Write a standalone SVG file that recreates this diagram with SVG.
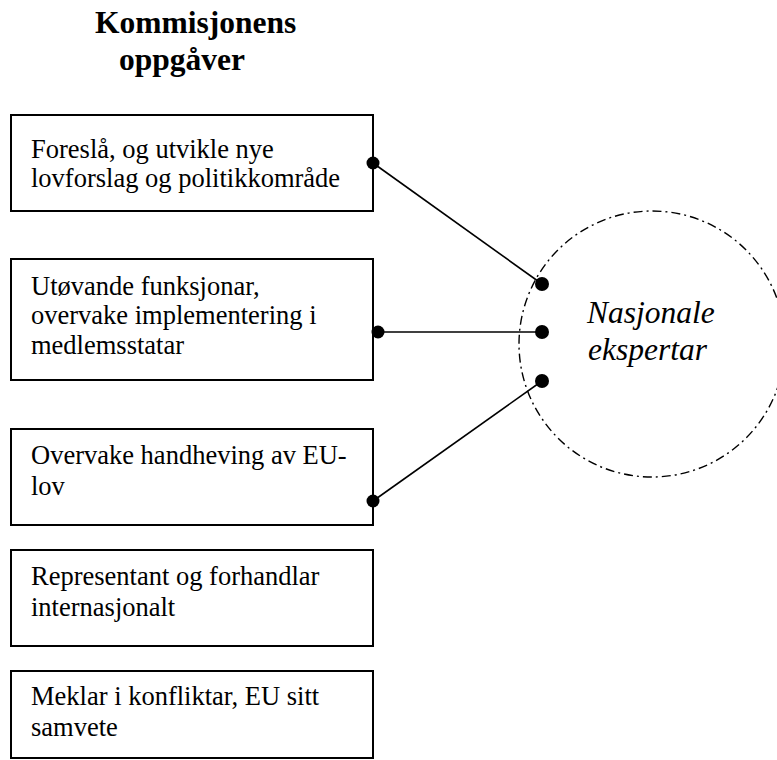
<svg xmlns="http://www.w3.org/2000/svg" width="777" height="760" viewBox="0 0 777 760">
<style>
.box{fill:#fff;stroke:#000;stroke-width:2}
.t{font-family:"Liberation Serif","Times New Roman",serif;font-size:26.5px;fill:#000}
.title{font-family:"Liberation Serif","Times New Roman",serif;font-size:31.5px;font-weight:bold;fill:#000}
.it{font-family:"Liberation Serif","Times New Roman",serif;font-size:31.5px;font-style:italic;fill:#000}
.con{stroke:#000;stroke-width:1.6;fill:none}
.dot{fill:#000}
.ring{fill:none;stroke:#000;stroke-width:1.4;stroke-dasharray:9 4 2 4}
</style>
<rect width="777" height="760" fill="#fff"/>
<g id="title">
<text class="title" x="95" y="33">Kommisjonens</text>
<text class="title" x="119" y="70">oppgåver</text>
</g>
<g id="node1">
<rect class="box" x="11" y="115" width="362" height="96"/>
<text class="t" x="31" y="158">Foreslå, og utvikle nye</text>
<text class="t" x="31" y="187">lovforslag og politikkområde</text>
</g>
<g id="node2">
<rect class="box" x="11" y="259" width="362" height="121"/>
<text class="t" x="31" y="295">Utøvande funksjonar,</text>
<text class="t" x="31" y="324">overvake implementering i</text>
<text class="t" x="31" y="354">medlemsstatar</text>
</g>
<g id="node3">
<rect class="box" x="11" y="429" width="362" height="96"/>
<text class="t" x="31" y="464">Overvake handheving av EU-</text>
<text class="t" x="31" y="495">lov</text>
</g>
<g id="node4">
<rect class="box" x="11" y="550" width="362" height="96"/>
<text class="t" x="31" y="585">Representant og forhandlar</text>
<text class="t" x="31" y="616">internasjonalt</text>
</g>
<g id="node5">
<rect class="box" x="11" y="671" width="362" height="87"/>
<text class="t" x="31" y="705">Meklar i konfliktar, EU sitt</text>
<text class="t" x="31" y="736">samvete</text>
</g>
<g id="experts">
<circle class="ring" cx="652" cy="344" r="133"/>
<text class="it" x="587" y="323">Nasjonale</text>
<text class="it" x="588" y="360">ekspertar</text>
</g>
<g id="connectors">
<line class="con" x1="373" y1="163" x2="542" y2="284"/>
<line class="con" x1="378" y1="332" x2="542" y2="332"/>
<line class="con" x1="373" y1="501" x2="542" y2="381"/>
<circle class="dot" cx="373" cy="163" r="6.5"/>
<circle class="dot" cx="378" cy="332" r="6.5"/>
<circle class="dot" cx="373" cy="501" r="6.5"/>
<circle class="dot" cx="542" cy="284" r="7"/>
<circle class="dot" cx="542" cy="332" r="7"/>
<circle class="dot" cx="542" cy="381" r="7"/>
</g>
</svg>
